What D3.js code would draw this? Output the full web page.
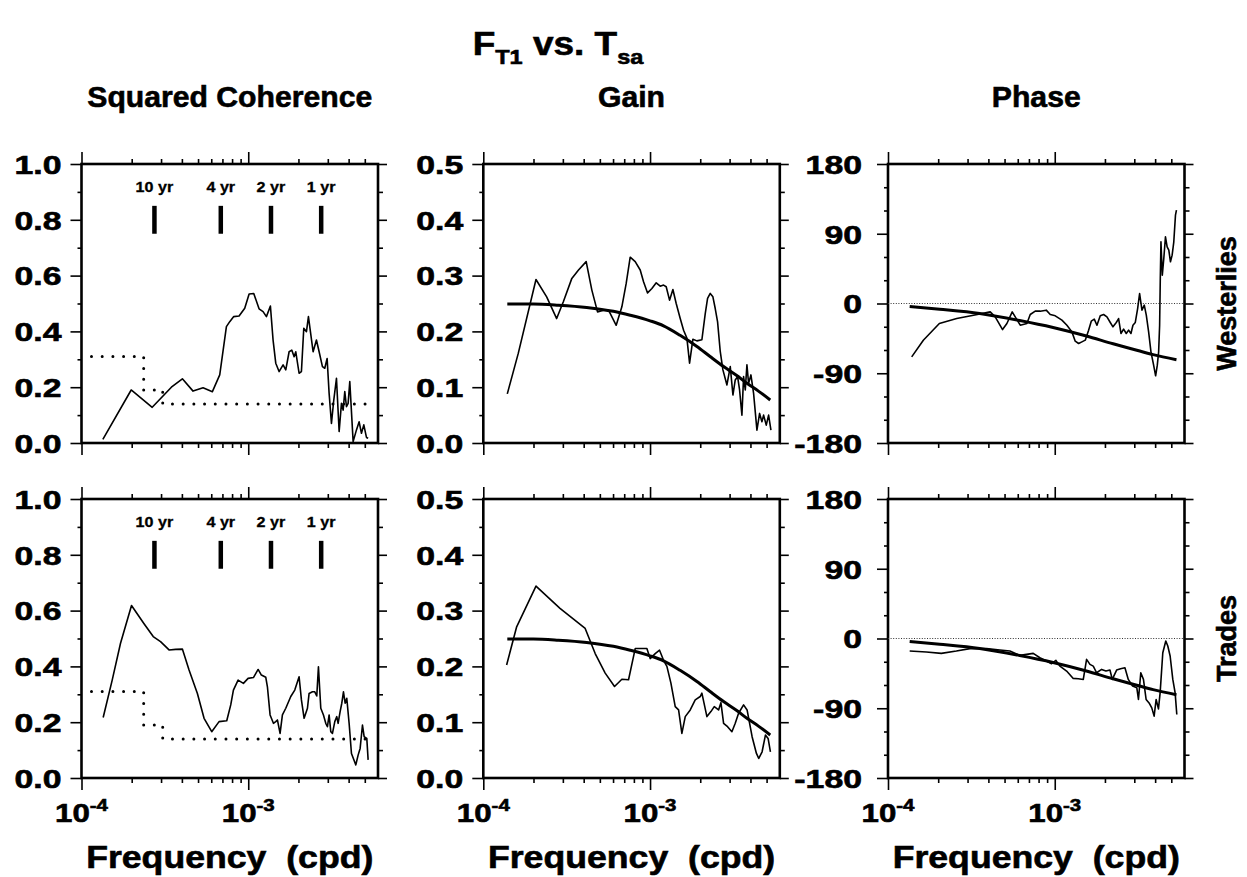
<!DOCTYPE html>
<html><head><meta charset="utf-8">
<script src="https://cdn.jsdelivr.net/npm/d3@7"></script>
<style>
body{margin:0;background:#fff;}
svg text{font-family:"Liberation Sans",Arial,Helvetica,sans-serif;font-weight:bold;fill:#000;stroke:#000;stroke-width:0.6px;}
svg text.small{stroke-width:0.3px;}
</style></head><body>
<svg id="chart" width="1247" height="877"></svg>
<script>
// ---------- data (frequencies in units of 1e-4 cpd) ----------
const FREQ_UNIT = 1e-4;
const freqDomain = [1e-4, 6e-3];
const xMajorTicks = [1e-4, 1e-3];
const xMajorExp = ["-4", "-3"];
const xMinorTicks = [2e-4,3e-4,4e-4,5e-4,6e-4,7e-4,8e-4,9e-4,2e-3,3e-3,4e-3,5e-3];

const cohMajor = [0,0.2,0.4,0.6,0.8,1.0];
const cohMinor = [0.1,0.3,0.5,0.7,0.9];
const gainMajor = [0,0.1,0.2,0.3,0.4,0.5];
const gainMinor = [0.05,0.15,0.25,0.35,0.45];
const phaseMajor = [-180,-90,0,90,180];
const phaseMinor = [-150,-120,-60,-30,30,60,120,150];

const columnTitles = ["Squared Coherence", "Gain", "Phase"];
const rowTitles = ["Westerlies", "Trades"];
const periodLabels = ["10 yr", "4 yr", "2 yr", "1 yr"];
const periodYears = [10, 4, 2, 1];

// significance level (dotted)
const sigF = [1.148, 2.360, 2.360, 3.069, 3.069, 52.48];
const sigV = [0.31, 0.31, 0.19, 0.19, 0.14, 0.14];

// Westerlies squared coherence
const wCohF = [1.343,1.986,2.655,3.459,4.027,4.667,5.358,6.095,6.745,7.396,7.745,8.185,8.810,9.528,10.12,10.79,11.61,12.27,12.85,13.58,14.09,14.62,15.31,16.18,16.79,17.58,18.24,18.84,19.28,20.18,20.84,21.53,22.34,22.96,23.60,24.49,25.64,26.61,27.86,28.77,29.72,30.55,31.55,32.58,33.81,35.08,36.22,37.07,37.93,38.82,39.72,40.64,42.56,44.57,46.24,47.75,49.32,51.17,52.36];
const wCohV = [.013,.19,.128,.20,.23,.186,.198,.184,.244,.417,.435,.453,.455,.483,.534,.536,.481,.471,.453,.491,.369,.286,.256,.280,.262,.327,.333,.309,.327,.250,.256,.411,.399,.453,.399,.327,.369,.327,.274,.268,.303,.178,.070,.154,.232,.041,.142,.118,.184,.130,.142,.220,.005,.047,.076,.035,.065,.020,.017];

// Trades squared coherence
const tCohF = [1.349,1.528,1.714,1.995,2.366,2.692,2.979,3.350,3.673,4.027,4.416,4.955,5.433,6.039,6.683,7.430,7.852,8.147,8.690,9.354,9.977,10.74,11.46,11.99,12.74,13.03,13.52,14.16,14.62,14.96,15.52,16.03,16.79,17.99,19.01,20.18,20.84,21.63,22.65,23.17,24.27,25.06,25.76,26.36,27.23,28.25,29.17,29.85,30.55,31.26,31.99,33.04,33.96,34.59,35.56,36.39,37.24,38.11,38.99,40.27,41.59,44.16,45.60,46.88,48.42,49.55,51.40,52.36];
const tCohV = [.217,.351,.483,.618,.554,.507,.489,.459,.461,.462,.387,.303,.214,.166,.202,.205,.262,.315,.351,.339,.357,.360,.389,.369,.361,.327,.226,.196,.202,.208,.160,.226,.250,.292,.315,.363,.280,.214,.250,.303,.309,.309,.294,.399,.250,.226,.196,.184,.226,.166,.160,.202,.220,.196,.238,.268,.309,.268,.286,.196,.088,.047,.082,.106,.190,.148,.142,.065];

// Westerlies gain
const wGainF = [1.393,1.622,2.070,2.399,2.754,3.020,3.396,3.724,4.140,4.477,4.842,5.260,5.636,6.266,6.776,7.194,7.603,8.147,8.730,9.141,9.661,10.26,10.89,11.51,12.05,12.50,13.09,13.71,14.35,15.17,15.89,16.63,17.26,18.07,19.10,20.46,21.43,22.13,22.96,23.82,24.60,25.41,26.36,27.35,28.91,30.27,31.41,32.43,33.50,34.43,35.56,36.39,37.24,38.11,38.99,40.27,41.78,43.75,45.39,46.88,47.97,49.77,51.40,53.09];
const wGainV = [.088,.161,.293,.262,.223,.253,.295,.310,.325,.274,.235,.238,.238,.211,.244,.286,.333,.325,.310,.289,.269,.277,.287,.281,.283,.280,.256,.275,.250,.223,.202,.188,.143,.186,.183,.185,.232,.259,.268,.262,.241,.217,.164,.131,.104,.137,.086,.113,.119,.095,.050,.119,.095,.140,.107,.122,.089,.023,.053,.038,.050,.032,.050,.023];

// Trades gain
const tGainF = [1.380,1.585,2.070,2.884,4.083,4.688,5.383,6.124,6.776,7.430,8.147,8.730,9.572,10.02,10.74,11.40,12.05,12.62,13.34,14.16,14.83,15.52,16.26,17.42,18.66,20.00,20.46,21.93,23.17,24.27,25.76,26.61,27.61,29.17,30.97,32.43,33.96,36.39,38.19,40.93,43.45,44.87,46.99,49.20,51.05,52.72];
const tGainV = [.2025,.271,.344,.304,.268,.223,.188,.164,.177,.176,.232,.232,.232,.214,.223,.229,.211,.200,.170,.128,.122,.080,.110,.122,.140,.146,.152,.110,.119,.128,.122,.135,.098,.092,.083,.098,.116,.131,.122,.074,.044,.035,.047,.077,.071,.047];

// model gain (thick)
const gainFitF = [1.393,1.995,2.818,4.169,6.026,7.603,10.0,12.05,15.14,19.10,22.91,27.61,33.11,38.11,44.67,52.60];
const gainFitV = [.249,.249,.247,.243,.236,.229,.219,.210,.193,.173,.155,.137,.121,.107,.093,.077];

// Westerlies phase
const wPhaseF = [1.387,1.629,2.032,2.582,3.258,4.102,4.395,4.864,5.164,5.559,6.209,6.808,7.129,7.638,8.185,8.892,9.397,10.07,11.04,11.83,12.68,13.27,13.90,14.55,15.24,15.96,16.56,17.26,17.91,18.75,19.63,20.56,21.53,22.34,23.39,24.15,24.95,25.88,26.85,27.73,28.64,29.44,30.41,31.41,32.28,33.34,34.43,35.40,36.56,37.76,39.17,40.27,41.21,41.98,42.56,42.95,43.35,44.16,45.08,46.13,47.21,48.31,49.43,50.58,51.76,52.97,53.70];
const wPhaseV = [-68.9,-47.4,-25.8,-19.4,-15.1,-10.8,-17.2,-33.6,-25.8,-10.8,-28.0,-25.8,-14.2,-9.9,-9.9,-8.6,-14.2,-15.9,-21.5,-28.0,-36.6,-48.6,-51.6,-49.5,-47.3,-34.4,-22.8,-20.2,-28.0,-15.9,-14.2,-17.2,-24.5,-30.1,-24.5,-19.4,-38.7,-33.1,-38.7,-34.4,-38.7,-28.0,-24.5,-6.5,12.9,-8.6,-2.2,-15.0,-36.6,-62.4,-79.6,-93.3,-79.6,-62.4,-28.0,32.3,79.6,36.6,58.1,86.0,73.1,68.8,53.8,62.4,79.6,114.0,120.4];

// Trades phase
const tPhaseF = [1.349,1.698,2.089,2.570,3.097,3.899,4.688,5.383,6.180,7.430,8.147,9.141,9.572,10.16,10.74,11.78,12.91,13.84,14.83,15.52,16.26,17.02,17.82,19.10,20.28,21.43,22.13,23.50,24.83,26.36,27.61,29.31,31.05,31.77,32.81,34.04,35.32,36.98,38.19,39.45,40.55,41.88,42.85,44.46,46.34,47.64,49.20,51.05,52.72,53.95];
const tPhaseV = [-16.2,-17.5,-19.2,-16.2,-13.1,-13.1,-14.9,-16.2,-21.8,-19.2,-24.8,-30.4,-32.5,-28.2,-35.6,-42.0,-51.5,-51.9,-52.8,-26.9,-33.4,-35.6,-44.2,-39.9,-42.0,-40.7,-52.8,-40.7,-39.0,-37.7,-52.8,-61.4,-63.5,-78.7,-44.2,-52.8,-78.7,-83.9,-89.5,-100.2,-78.7,-90.8,-70.1,-18.4,-3.3,-9.7,-22.6,-52.8,-70.1,-98.1];

// model phase (thick)
const phaseFitF = [1.349,2.042,3.548,6.166,9.772,15.49,22.39,29.51,38.90,53.70];
const phaseFitV = [-4,-7.5,-13,-22,-31,-42,-52,-59,-66,-72.5];

// ---------- layout ----------
const svg = d3.select("#chart");
const W = 296.5, H = 279;
const colX = [81.5, 483.3, 888];
const rowY = [164, 499];
const labelPad = [9, 9, 15];

const pts = (F, V) => d3.zip(F, V).map(([f, v]) => [f * FREQ_UNIT, v]);

const yCfg = {
  coh:   {domain:[0,1], major:cohMajor, minor:cohMinor, fmt:d3.format(".1f")},
  gain:  {domain:[0,0.5], major:gainMajor, minor:gainMinor, fmt:d3.format(".1f")},
  phase: {domain:[-180,180], major:phaseMajor, minor:phaseMinor, fmt:d => String(d)}
};

const panels = [
  {row:0, col:0, type:"coh", thin:pts(wCohF,wCohV)},
  {row:0, col:1, type:"gain", thin:pts(wGainF,wGainV), fit:pts(gainFitF,gainFitV)},
  {row:0, col:2, type:"phase", thin:pts(wPhaseF,wPhaseV), fit:pts(phaseFitF,phaseFitV)},
  {row:1, col:0, type:"coh", thin:pts(tCohF,tCohV)},
  {row:1, col:1, type:"gain", thin:pts(tGainF,tGainV), fit:pts(gainFitF,gainFitV)},
  {row:1, col:2, type:"phase", thin:pts(tPhaseF,tPhaseV), fit:pts(phaseFitF,phaseFitV)}
];

function stretch(sel, k){
  sel.each(function(){
    const l = this.getComputedTextLength();
    this.setAttribute("textLength", (l * k).toFixed(1));
    this.setAttribute("lengthAdjust", "spacingAndGlyphs");
  });
}

const x = d3.scaleLog().domain(freqDomain).range([0, W]);

panels.forEach(p => {
  const cfg = yCfg[p.type];
  const y = d3.scaleLinear().domain(cfg.domain).range([H, 0]);
  const g = svg.append("g").attr("transform", `translate(${colX[p.col]},${rowY[p.row]})`);

  const axG = g.append("g").attr("class","axes");
  const tickStyle = s => { s.select(".domain").remove(); s.selectAll("line").attr("stroke","#000").attr("stroke-width",1.6); };

  const left = axG.append("g").call(d3.axisLeft(y).tickValues(cfg.major).tickSize(11).tickPadding(labelPad[p.col]).tickFormat(cfg.fmt)).call(tickStyle);
  left.selectAll("text").attr("font-size", 26).attr("font-family", null).attr("fill", null).attr("dy", "0.36em");
  stretch(left.selectAll("text"), 1.3);
  axG.append("g").call(d3.axisLeft(y).tickValues(cfg.minor).tickSize(4).tickFormat("")).call(tickStyle);
  axG.append("g").attr("transform",`translate(${W},0)`).call(d3.axisRight(y).tickValues(cfg.major).tickSize(9).tickFormat("")).call(tickStyle);
  axG.append("g").attr("transform",`translate(${W},0)`).call(d3.axisRight(y).tickValues(cfg.minor).tickSize(5).tickFormat("")).call(tickStyle);
  axG.append("g").call(d3.axisTop(x).tickValues(xMajorTicks).tickSize(12).tickFormat("")).call(tickStyle);
  axG.append("g").call(d3.axisTop(x).tickValues(xMinorTicks).tickSize(5).tickFormat("")).call(tickStyle);
  axG.append("g").attr("transform",`translate(0,${H})`).call(d3.axisBottom(x).tickValues(xMajorTicks).tickSize(12).tickFormat("")).call(tickStyle);
  axG.append("g").attr("transform",`translate(0,${H})`).call(d3.axisBottom(x).tickValues(xMinorTicks).tickSize(5).tickFormat("")).call(tickStyle);

  if (p.row === 1) {
    const lab = g.append("g").selectAll("text").data(xMajorTicks).join("text")
      .attr("x", d => x(d)).attr("y", H + 44).attr("text-anchor","middle").attr("font-size", 26);
    lab.append("tspan").text("10");
    lab.append("tspan").attr("font-size", 17).attr("dy", -11).text((d,i) => xMajorExp[i]);
    stretch(lab, 1.2);
    const fl = g.append("text").attr("x", W/2).attr("y", H + 90).attr("text-anchor","middle")
      .attr("font-size", 31).style("white-space","pre").text("Frequency  (cpd)");
    stretch(fl, 1.15);
  }

  // frame
  g.append("rect").attr("width", W).attr("height", H).attr("fill","none").attr("stroke","#000").attr("stroke-width",2.6);

  const line = d3.line().x(d => x(d[0])).y(d => y(d[1]));

  if (p.type === "coh") {
    g.append("path").datum(pts(sigF, sigV)).attr("d", line).attr("fill","none")
      .attr("stroke","#000").attr("stroke-width",3).attr("stroke-linecap","round").attr("stroke-dasharray","0,10.7");
    periodYears.forEach((yr, i) => {
      const fx = x(1 / (365.25 * yr));
      g.append("line").attr("x1", fx).attr("x2", fx).attr("y1", y(0.75)).attr("y2", y(0.85))
        .attr("stroke","#000").attr("stroke-width",4.5);
      const t = g.append("text").attr("class","small").attr("x", fx).attr("y", y(0.9)).attr("text-anchor","middle")
        .attr("font-size", 14).text(periodLabels[i]);
      stretch(t, 1.15);
    });
  }
  if (p.type === "phase") {
    g.append("line").attr("x1", 0).attr("x2", W).attr("y1", y(0)).attr("y2", y(0))
      .attr("stroke","#333").attr("stroke-width",1).attr("stroke-dasharray","1,1.6");
  }
  if (p.fit) {
    g.append("path").datum(p.fit).attr("d", line.curve(d3.curveMonotoneX)).attr("fill","none")
      .attr("stroke","#000").attr("stroke-width",3);
    line.curve(d3.curveLinear);
  }
  g.append("path").datum(p.thin).attr("d", line).attr("fill","none")
    .attr("stroke","#000").attr("stroke-width",1.6).attr("stroke-linejoin","round");
});

// column titles
const colCenters = colX.map(c => c + W/2);
columnTitles.forEach((t, i) => {
  const el = svg.append("text").attr("x", colCenters[i]).attr("y", 107).attr("text-anchor","middle")
    .attr("font-size", 29).text(t);
  stretch(el, 1.04);
});

// row titles
rowTitles.forEach((t, i) => {
  svg.append("text").attr("transform", `translate(1236,${rowY[i] + H/2}) rotate(-90)`)
    .attr("text-anchor","middle").attr("font-size", 27).text(t);
});

// main title
const title = svg.append("text").attr("x", 558).attr("y", 55).attr("text-anchor","middle").attr("font-size", 33);
title.append("tspan").text("F");
title.append("tspan").attr("font-size", 21).attr("dy", 9).text("T1");
title.append("tspan").attr("dy", -9).text(" vs. T");
title.append("tspan").attr("font-size", 21).attr("dy", 9).text("sa");
stretch(title, 1.12);
</script>
</body></html>
